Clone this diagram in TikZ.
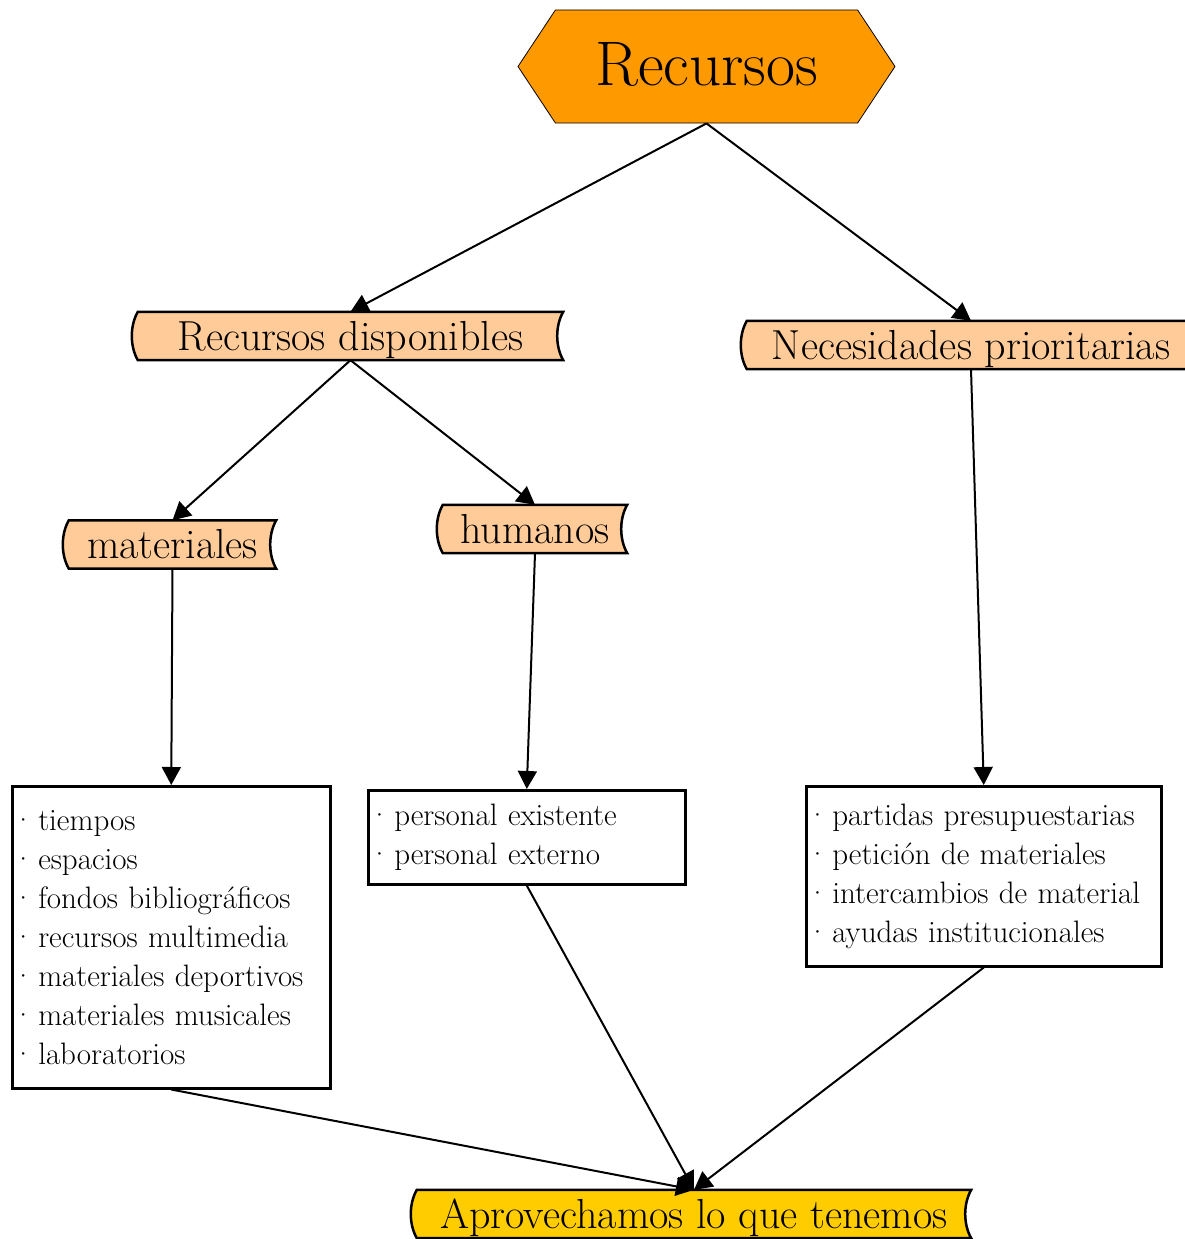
\documentclass[tikz,border=0pt]{standalone}
\usepackage{fontspec}
\usepackage{xcolor}
\usepackage{tikz}
\usetikzlibrary{arrows.meta}
\usetikzlibrary{shapes.symbols}
\usetikzlibrary{backgrounds}

\definecolor{hexorange}{HTML}{FF9900}
\definecolor{peach}{HTML}{FFCC99}
\definecolor{gold}{HTML}{FFCC00}

\newcommand{\itm}{·\hspace{0.12em}}

\begin{document}
\begin{tikzpicture}[x=1pt,y=-1pt,
	hexnode/.style={signal, signal to=west and east, signal pointer angle=113,
		draw, line width=0.8pt, fill=hexorange, minimum width=377pt, minimum height=113pt,
		text height=43pt, text depth=6pt, font=\fontsize{63}{66}\selectfont},
	scroll/.style={minimum height=48pt, inner sep=0pt, text height=28pt,
		text depth=0pt, font=\fontsize{42}{44}\selectfont},
	listbox/.style={draw, line width=2.5pt, align=left, anchor=north west,
		inner xsep=0pt, font=\fontsize{31}{39}\selectfont},
	arr/.style={-{Triangle[length=18pt,width=19pt]}, line width=2pt}]
	\useasboundingbox (0,0) rectangle (1184,1239);

	% top of the map
	\node[hexnode] (rec) at (706.5,66.5) {Recursos};

	% categories
	\node[scroll, minimum width=425pt] (disp) at (350.5,336) {Recursos disponibles};
	\node[scroll, minimum width=448pt] (nec) at (971,345) {Necesidades prioritarias};
	\node[scroll, minimum width=207pt] (mat) at (172.5,544.5) {materiales};
	\node[scroll, minimum width=184pt] (hum) at (535,529) {humanos};
	\node[scroll, minimum width=554pt] (apr) at (694,1214) {Aprovechamos lo que tenemos};

	% lists
	\node[listbox, minimum height=302pt, text width=318pt] (lmat) at (11,785)
		{\itm tiempos\\ \itm espacios\\ \itm fondos bibliográficos\\ \itm recursos multimedia\\
		 \itm materiales deportivos\\ \itm materiales musicales\\ \itm laboratorios};
	\node[listbox, minimum height=94pt, text width=317pt] (lhum) at (367,789)
		{\itm personal existente\\ \itm personal externo};
	\node[listbox, minimum height=180pt, text width=355pt] (lnec) at (805,785)
		{\itm partidas presupuestarias\\ \itm petición de materiales\\
		 \itm intercambios de material\\ \itm ayudas institucionales};

	% scroll outlines behind the text
	\begin{pgfonlayer}{background}
		\foreach \n/\c in {disp/peach, nec/peach, mat/peach, hum/peach, apr/gold}
			\draw[line width=2.5pt, fill=\c] (\n.north west)
				.. controls +(-8,14) and +(-8,-14) .. (\n.south west) -- (\n.south east)
				.. controls +(-8,-14) and +(-8,14) .. (\n.north east) -- cycle;
	\end{pgfonlayer}

	% connectors
	\draw[arr] (rec.south) -- (disp.north);
	\draw[arr] (rec.south) -- (nec.north);
	\draw[arr] (disp.south) -- (mat.north);
	\draw[arr] (disp.south) -- (hum.north);
	\draw[arr] (mat.south) -- (lmat.north);
	\draw[arr] (hum.south) -- (lhum.north);
	\draw[arr] (nec.south) -- (lnec.north);
	\draw[arr] (lmat.south) -- (apr.north);
	\draw[arr] (lhum.south) -- (apr.north);
	\draw[arr] (lnec.south) -- (apr.north);
\end{tikzpicture}
\end{document}
